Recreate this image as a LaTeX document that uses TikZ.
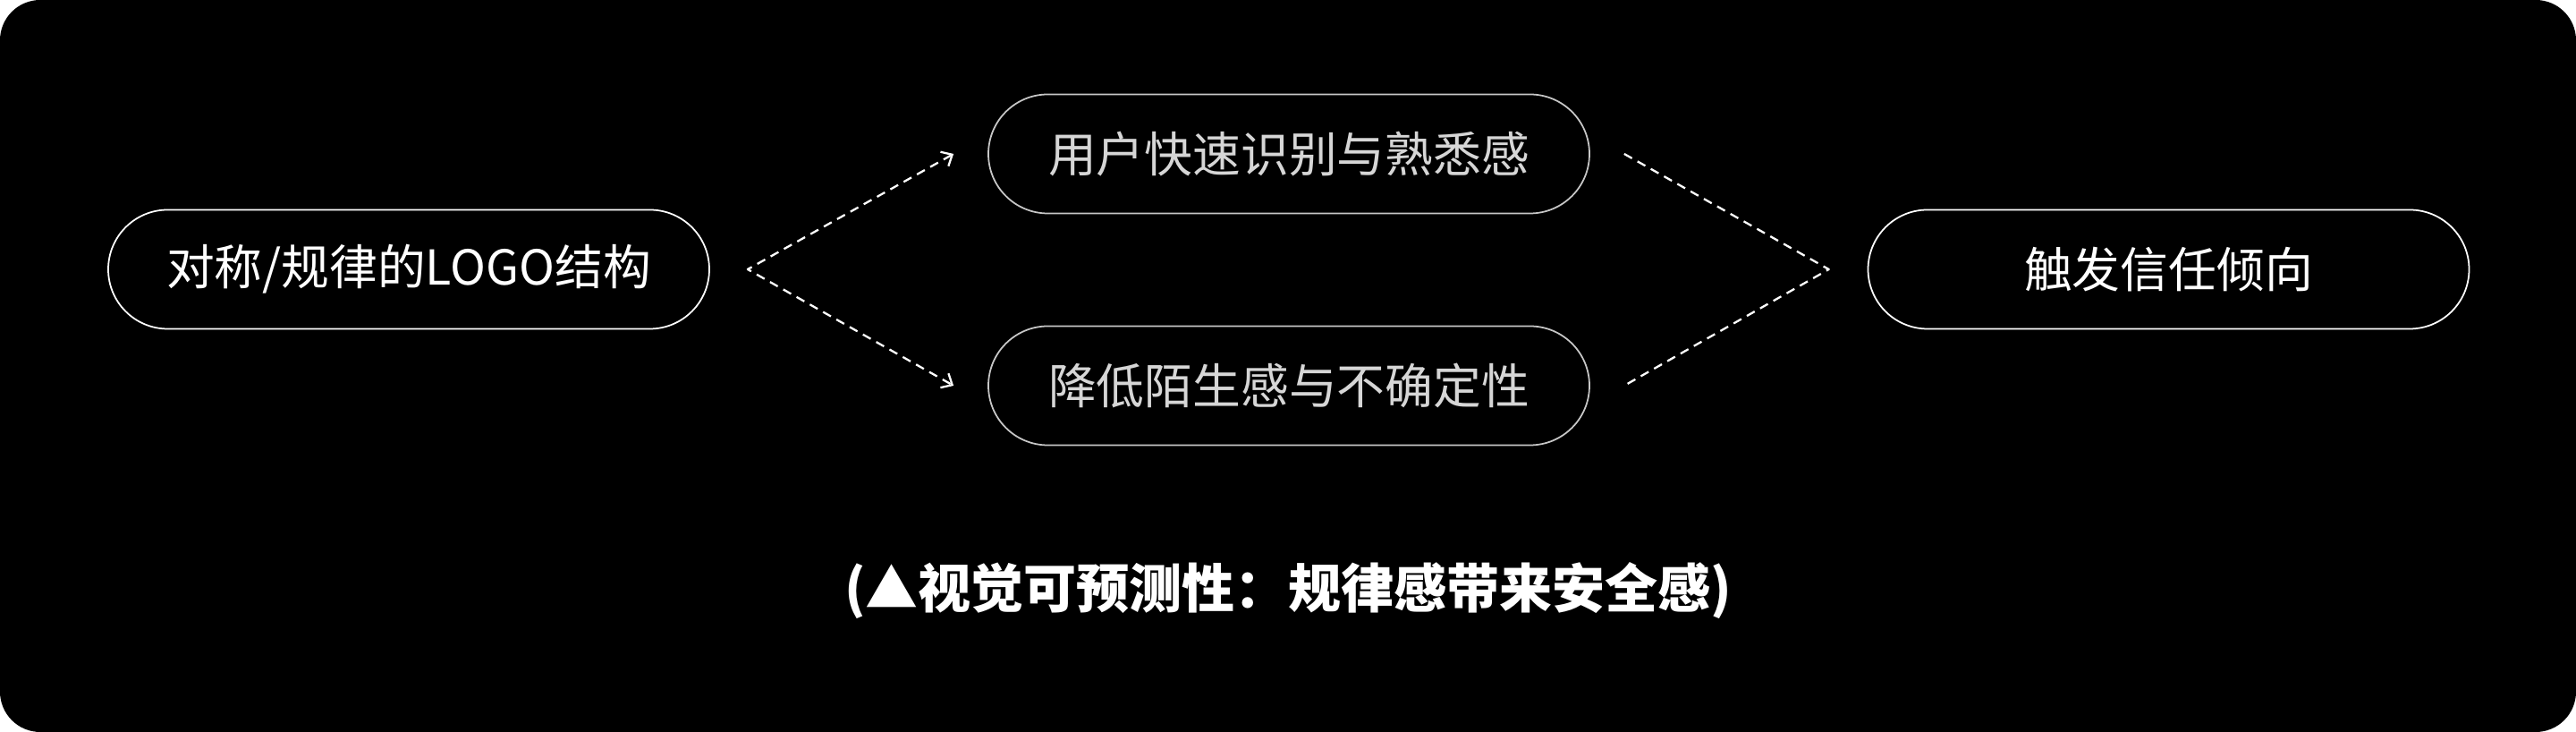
\documentclass[tikz,border=0pt]{standalone}
\usepackage{fontspec}
\setmainfont{Noto Sans CJK SC}
\usetikzlibrary{arrows.meta}

\begin{document}
\begin{tikzpicture}[
    pill/.style={draw=white, line width=0.5pt, rounded corners=6.65mm,
        minimum width=6.72cm, minimum height=1.33cm, inner sep=0pt,
        text=white, font=\fontsize{15.3pt}{18pt}\selectfont},
    softpill/.style={pill, draw=black!22, text=black!16},
    flow/.style={white, line width=0.65pt, dash pattern=on 2.85pt off 2pt,
        line join=round},
    barbs/.style={{Straight Barb[length=2.85pt,width=5.2pt]}-{Straight Barb[length=2.85pt,width=5.2pt]}}
]
    % Background card
    \useasboundingbox (0,0) rectangle (28.8,8.18);
    \fill[black, rounded corners=4.5mm] (0,0) rectangle (28.8,8.18);

    % Nodes
    \node[pill] (logo) at (4.57,5.17) {对称/规律的LOGO结构};
    \node[softpill] (recog) at (14.41,6.46) {用户快速识别与熟悉感};
    \node[softpill] (doubt) at (14.41,3.87) {降低陌生感与不确定性};
    \node[pill] (trust) at (24.245,5.17) {触发信任倾向};

    % Caption
    \node[text=white, font=\fontsize{16.8pt}{20pt}\selectfont\bfseries] (note) at (14.40,1.58)
        {(▲视觉可预测性：规律感带来安全感)};

    % Connector end points
    \coordinate (splitL) at ([xshift=4.2mm]logo.east);
    \coordinate (recogIn) at ([xshift=-3.8mm]recog.west);
    \coordinate (doubtIn) at ([xshift=-3.8mm]doubt.west);
    \coordinate (recogOut) at ([xshift=3.8mm]recog.east);
    \coordinate (doubtOut) at ([xshift=3.8mm]doubt.east);
    \coordinate (joinR) at ([xshift=-4.3mm]trust.west);

    % Connectors
    \draw[flow, barbs] (recogIn) -- (splitL) -- (doubtIn);
    \draw[flow] (recogOut) -- (joinR) -- (doubtOut);
\end{tikzpicture}
\end{document}
